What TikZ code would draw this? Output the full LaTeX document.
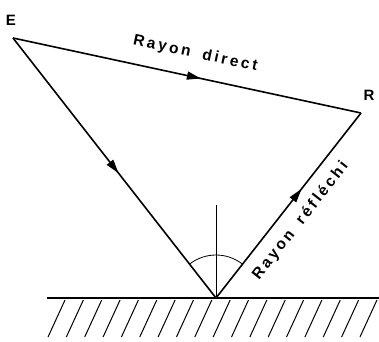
\documentclass[tikz,border=0pt]{standalone}
\usepackage{fontspec}
\usetikzlibrary{arrows.meta, decorations.markings, calc}
\newfontfamily\raylabel{Liberation Sans}[LetterSpace=18]
\newfontfamily\ptlabel{Liberation Sans}

\begin{document}
\begin{tikzpicture}[x=1pt, y=-1pt,
  ray/.style={line width=1.6pt, postaction={decorate},
              decoration={markings, mark=at position #1 with
              {\arrow{Triangle[length=14pt, width=8pt]}}}},
  ray/.default=0.5,
  normal/.style={line width=0.8pt},
  ground/.style={line width=2pt},
  hatch/.style={line width=1pt},
  raytext/.style={font=\raylabel\bfseries\fontsize{15.5}{17}\selectfont, sloped, inner sep=0pt},
  ptname/.style={font=\ptlabel\bfseries\fontsize{15}{17}\selectfont, inner sep=0pt}
]
  \useasboundingbox (0,0) rectangle (379,341);

  % points
  \coordinate (E) at (13,38);
  \coordinate (R) at (361,113);
  \coordinate (O) at (216,298);
  \coordinate (N) at (216,205);
  \coordinate (gl) at (47,298);
  \coordinate (gr) at (379,298);

  \node[ptname] (lE) at (11,20) {E};
  \node[ptname] (lR) at (369,95) {R};

  % rays
  \draw[ray=0.54] (E) -- node[raytext, pos=0.51, above=15pt] (ldirect) {Rayon\hspace{5pt} direct} (R);
  \draw[ray=0.52] (E) -- (O);
  \draw[ray=0.59] (O) -- node[raytext, pos=0.48, below=11pt] (lrefl) {Rayon\hspace{5pt} réfléchi} (R);

  % normal and angle
  \draw[normal] (O) -- (N);
  \draw[normal] ($(O)+(-52:43)$) arc[start angle=-52, end angle=-128, radius=43];

  % ground
  \draw[ground] (gl) -- (gr);
  \foreach \i in {0,...,17}
    \draw[hatch] (65+18.35*\i,300) -- ++(-17,37);
\end{tikzpicture}
\end{document}
